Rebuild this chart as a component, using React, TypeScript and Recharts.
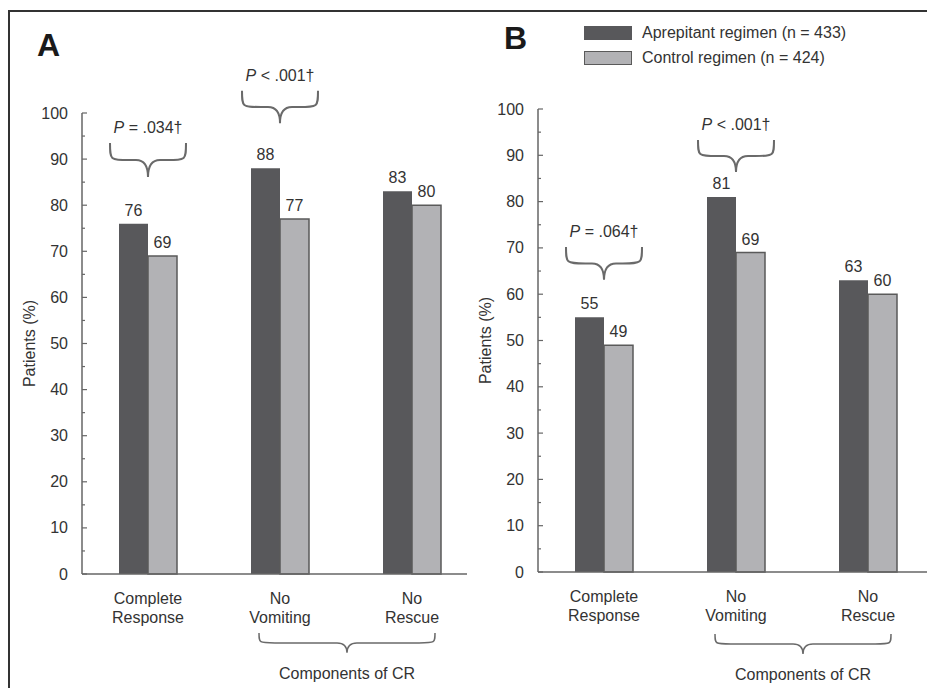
import React from "react";
import { BarChart, Bar, XAxis, YAxis, LabelList, ReferenceLine, Legend } from "recharts";

const categories = ["Complete Response", "No Vomiting", "No Rescue"];
const seriesNames = ["Aprepitant regimen (n = 433)", "Control regimen (n = 424)"];
const aprepitantA = [76, 88, 83];
const controlA = [69, 77, 80];
const aprepitantB = [55, 81, 63];
const controlB = [49, 69, 60];
const pValuesA = ["= .034†", "< .001†"];
const pValuesB = ["= .064†", "< .001†"];
const yTicks = [0, 5, 10, 15, 20, 25, 30, 35, 40, 45, 50, 55, 60, 65, 70, 75, 80, 85, 90, 95, 100];

// where the brace annotations sit, in y-axis units (top of brace, tip of brace)
const braceSpotsA = [[93.5, 86.1], [104.8, 97.8]];
const braceSpotsB = [[70.2, 63.1], [93.3, 86.4]];
const groupBraceA = [-12.8, -17.1];
const groupBraceB = [-13.4, -17.7];

const FONT = '"Liberation Sans", Arial, Helvetica, sans-serif';
const INK = "#333";
const DARK = "#58585b";
const LIGHT = "#b2b2b5";

const buildRows = (a: number[], c: number[]) =>
  categories.map((cat, i) => ({ category: cat, aprepitant: a[i], control: c[i] }));

function bracePath(xl: number, xr: number, yTop: number, yTip: number, rMax: number) {
  const yFlat = (yTop + yTip) / 2;
  const r = Math.min(yFlat - yTop, rMax);
  const xc = (xl + xr) / 2;
  return `M${xl},${yTop} C${xl},${yFlat} ${xl},${yFlat} ${xl + r * 1.6},${yFlat} L${xc - r},${yFlat} Q${xc},${yFlat} ${xc},${yTip} Q${xc},${yFlat} ${xc + r},${yFlat} L${xr - r * 1.6},${yFlat} C${xr},${yFlat} ${xr},${yFlat} ${xr},${yTop}`;
}

const pBrace = (text: string) => (props: any) => {
  const { x1, y1, y2 } = props;
  return (
    <g>
      <path d={bracePath(x1 - 38, x1 + 38, y1, y2, 12)} fill="none" stroke="#6a6a6a" strokeWidth={2} />
      <text x={x1} y={y1 - 10} textAnchor="middle" fontSize={16} fill={INK} fontFamily={FONT}>
        <tspan fontStyle="italic">P</tspan> {text}
      </text>
    </g>
  );
};

const groupBrace = (props: any) => {
  const { x1, y1, x2, y2 } = props;
  const xl = x1 - 21;
  const xr = x2 + 23;
  return (
    <g>
      <path d={bracePath(xl, xr, y1, y2, 12)} fill="none" stroke="#6a6a6a" strokeWidth={1.5} />
      <text x={(xl + xr) / 2} y={y2 + 26} textAnchor="middle" fontSize={16} fill={INK} fontFamily={FONT}>
        Components of CR
      </text>
    </g>
  );
};

const XTick = (props: any) => {
  const { x, y, payload } = props;
  const words = String(payload.value);
  const cut = words.indexOf(" ");
  const lines = [words.slice(0, cut), words.slice(cut + 1)];
  return (
    <g>
      {lines.map((ln, i) => (
        <text key={i} x={x} y={y + 30 + i * 19} textAnchor="middle" fontSize={16} fill={INK} fontFamily={FONT}>
          {ln}
        </text>
      ))}
    </g>
  );
};

const YTick = (props: any) => {
  const { x, y, payload } = props;
  const axisX = x + 14;
  const major = payload.value % 10 === 0;
  return (
    <g>
      <line x1={axisX} x2={axisX + (major ? 5 : 3)} y1={y} y2={y} stroke="#666" strokeWidth={1.2} />
      {major && (
        <text x={x} y={y + 5.5} textAnchor="end" fontSize={16} fill={INK} fontFamily={FONT}>
          {payload.value}
        </text>
      )}
    </g>
  );
};

const yLabel = (props: any) => {
  const vb = props.viewBox;
  const cx = vb.x + 7;
  const cy = vb.y + vb.height / 2;
  return (
    <text x={cx} y={cy} transform={`rotate(-90 ${cx} ${cy})`} textAnchor="middle" dominantBaseline="central" fontSize={16} fill={INK} fontFamily={FONT}>
      Patients (%)
    </text>
  );
};

const LegendBox = (props: any) => {
  const items = props.payload || [];
  return (
    <div style={{ fontFamily: FONT, fontSize: 16, color: INK }}>
      {items.map((it: any, i: number) => (
        <div key={i} style={{ display: "flex", alignItems: "center", height: 25 }}>
          <span
            style={{
              display: "inline-block",
              width: i === 0 ? 48 : 46,
              height: i === 0 ? 14 : 12,
              background: it.color,
              border: i === 0 ? "none" : "1px solid #5a5a5a",
              marginRight: 10,
            }}
          />
          <span>{it.value}</span>
        </div>
      ))}
    </div>
  );
};

function Panel({ rows, pValues, braces, group, width, margin, padRight, legend }: any) {
  return (
    <BarChart width={width} height={688} data={rows} margin={margin} barSize={29} barGap={0}>
      <XAxis
        dataKey="category"
        height={60}
        tick={<XTick />}
        tickLine={false}
        tickSize={0}
        tickMargin={0}
        axisLine={{ stroke: "#666", strokeWidth: 1.5 }}
        padding={{ left: 0, right: padRight }}
        interval={0}
      />
      <YAxis
        domain={[0, 100]}
        ticks={yTicks}
        width={60}
        tick={<YTick />}
        tickLine={false}
        tickSize={0}
        tickMargin={14}
        interval={0}
        axisLine={{ stroke: "#666", strokeWidth: 1.5 }}
        label={{ content: yLabel }}
      />
      {legend && (
        <Legend
          layout="vertical"
          align="center"
          verticalAlign="middle"
          content={<LegendBox />}
          wrapperStyle={{ top: 20, left: 584, width: "auto" }}
        />
      )}
      <Bar dataKey="aprepitant" name={seriesNames[0]} fill={DARK} isAnimationActive={false}>
        <LabelList dataKey="aprepitant" position="top" offset={8} fontSize={16} fill={INK} fontFamily={FONT} />
      </Bar>
      <Bar dataKey="control" name={seriesNames[1]} fill={LIGHT} stroke="#5a5a5a" strokeWidth={1.5} isAnimationActive={false}>
        <LabelList dataKey="control" position="top" offset={8} fontSize={16} fill={INK} fontFamily={FONT} />
      </Bar>
      {pValues.map((p: string, i: number) => (
        <ReferenceLine
          key={i}
          ifOverflow="visible"
          segment={[
            { x: categories[i], y: braces[i][0] },
            { x: categories[i], y: braces[i][1] },
          ]}
          shape={pBrace(p)}
        />
      ))}
      <ReferenceLine
        ifOverflow="visible"
        segment={[
          { x: categories[1], y: group[0] },
          { x: categories[2], y: group[1] },
        ]}
        shape={groupBrace}
      />
    </BarChart>
  );
}

export default function App() {
  const letter: React.CSSProperties = {
    position: "absolute",
    fontFamily: FONT,
    fontWeight: 700,
    fontSize: 32,
    lineHeight: 1,
    color: "#1a1a1a",
  };
  return (
    <div style={{ position: "absolute", left: 0, top: 0, width: 927, height: 688, overflow: "hidden", background: "#fff" }}>
      <div style={{ position: "absolute", left: 8, top: 10, width: 1000, height: 800, border: "2px solid #333" }} />
      <div style={{ position: "absolute", left: 0, top: 0 }}>
        <Panel
          rows={buildRows(aprepitantA, controlA)}
          pValues={pValuesA}
          braces={braceSpotsA}
          group={groupBraceA}
          width={467}
          margin={{ top: 113, right: 0, bottom: 54, left: 22 }}
          padRight={-11}
        />
      </div>
      <div style={{ position: "absolute", left: 0, top: 0 }}>
        <Panel
          rows={buildRows(aprepitantB, controlB)}
          pValues={pValuesB}
          braces={braceSpotsB}
          group={groupBraceB}
          width={934}
          margin={{ top: 109, right: 0, bottom: 56, left: 478 }}
          padRight={0}
          legend
        />
      </div>
      <div style={{ ...letter, left: 37, top: 29 }}>A</div>
      <div style={{ ...letter, left: 504, top: 22 }}>B</div>
    </div>
  );
}
